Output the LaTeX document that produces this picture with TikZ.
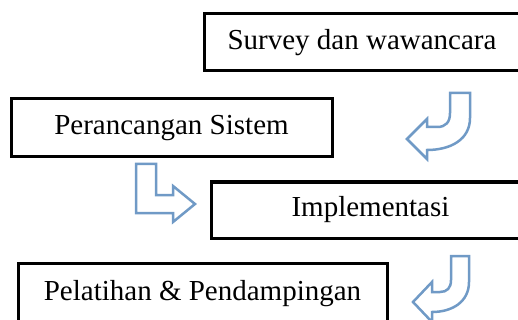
\documentclass[tikz,border=0pt]{standalone}
\usepackage{fontspec}
\setmainfont{Liberation Serif}
\usepackage{tikz}
\definecolor{arrowblue}{RGB}{112,154,198}

\begin{document}
\begin{tikzpicture}[
  x=1pt, y=-1pt,
  tahap/.style={draw=black, line width=3pt, fill=white, inner sep=0pt,
    font=\fontsize{29}{34}\selectfont},
  panah/.style={draw=arrowblue, line width=2.5pt, fill=white, line join=miter}
]
\useasboundingbox (0,0) rectangle (518,320);
\clip (0,0) rectangle (518,320);

% langkah-langkah
\node [tahap, minimum width=316pt, minimum height=57pt] (survey) at (362,42.5) {Survey dan wawancara};
\node [tahap, minimum width=321pt, minimum height=58pt] (rancang) at (171.5,128) {Perancangan Sistem};
\node [tahap, minimum width=319pt, minimum height=56pt] (implementasi) at (370.5,210) {Implementasi};
\node [tahap, minimum width=369pt, minimum height=62pt] (pelatihan) at (202.5,294) {Pelatihan \& Pendampingan};

% panah belok
\draw [panah] (450,93) -- (470,93) -- (470,118)
  .. controls (470,140) and (450,150) .. (427,150) -- (427,159) -- (407,139)
  -- (427,119) -- (427,127) -- (437,127)
  .. controls (446,127) and (450,122) .. (450,113) -- cycle;

\draw [panah] (136,164) -- (156,164) -- (156,195) -- (173,195) -- (173,186)
  -- (195,204) -- (173,222) -- (173,213) -- (136,213) -- cycle;

\draw [panah] (451,256) -- (469,256) -- (469,282)
  .. controls (469,302) and (452,312) .. (432,312) -- (432,322) -- (413,302)
  -- (432,282) -- (432,292) -- (440,292)
  .. controls (447,292) and (451,288) .. (451,280) -- cycle;
\end{tikzpicture}
\end{document}
